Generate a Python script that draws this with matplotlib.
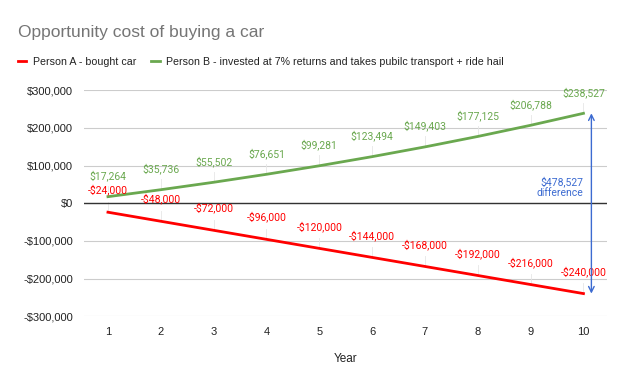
import numpy as np
import matplotlib
matplotlib.use("Agg")
import matplotlib.pyplot as plt
from matplotlib.ticker import FuncFormatter

plt.rcParams['font.family'] = ['Liberation Sans', 'DejaVu Sans']

#########################
# data
#########################
years = [1, 2, 3, 4, 5, 6, 7, 8, 9, 10]
person_a = [-24000, -48000, -72000, -96000, -120000, -144000, -168000, -192000, -216000, -240000]
person_b = [17264, 35736, 55502, 76651, 99281, 123494, 149403, 177125, 206788, 238527]
label_a = "Person A - bought car"
label_b = "Person B - invested at 7% returns and takes pubilc transport + ride hail"
diff_text = "$478,527\ndifference"

RED = "#ff0000"
GREEN = "#6aa84f"
BLUE = "#3c6bd1"
LABEL_FONT = ['Roboto', 'DejaVu Sans']


def money(v, pos=None):
    if v < 0:
        return "-${:,.0f}".format(-v)
    return "${:,.0f}".format(v)


fig = plt.figure(figsize=(6.19, 3.87), dpi=100)
ax = fig.add_axes([0.136, 0.183, 0.845, 0.584])

ax.plot(years, person_a, color=RED, lw=2, label=label_a, zorder=3)
ax.plot(years, person_b, color=GREEN, lw=2, label=label_b, zorder=3)

# data labels
for x, a, b in zip(years, person_a, person_b):
    ax.annotate(money(b), (x, b), xytext=(0, 11), textcoords="offset points",
                ha="center", va="bottom", fontsize=7.5, color=GREEN, family=LABEL_FONT)
    ax.annotate(money(a), (x, a), xytext=(0, 12), textcoords="offset points",
                ha="center", va="bottom", fontsize=7.5, color=RED, family=LABEL_FONT)
    ax.plot([x, x], [b, b + 28000], color="#e6e6e6", lw=0.6, zorder=1)
    ax.plot([x, x], [a, a + 28000], color="#e6e6e6", lw=0.6, zorder=1)

# difference arrow
ax.annotate("", xy=(10.15, person_b[-1]), xytext=(10.15, person_a[-1]),
            arrowprops=dict(arrowstyle="<->", color=BLUE, lw=1, shrinkA=0, shrinkB=0),
            zorder=4)
ax.text(10.0, 42000, diff_text, color=BLUE, fontsize=7.5, ha="right", va="center",
        linespacing=1.1, family=LABEL_FONT)

ax.set_xlim(0.55, 10.45)
ax.set_ylim(-300000, 300000)
ax.set_yticks(np.arange(-300000, 300001, 100000))
ax.yaxis.set_major_formatter(FuncFormatter(money))
ax.set_xticks(years)
ax.grid(axis="y", color="#cccccc", lw=0.8)
ax.axhline(0, color="#333333", lw=1, zorder=2)
ax.set_axisbelow(True)
for s in ax.spines.values():
    s.set_visible(False)
ax.tick_params(length=0, labelsize=8, colors="#222222", pad=8)
ax.set_xlabel("Year", fontsize=8.5, color="#222222", labelpad=11)

fig.text(0.029, 0.915, "Opportunity cost of buying a car", fontsize=12.5,
         color="#757575", va="center")
fig.legend(loc="center left", bbox_to_anchor=(0.022, 0.84), ncol=2, frameon=False,
           fontsize=7.7, handlelength=0.8, handletextpad=0.6, columnspacing=1.4,
           borderaxespad=0)
for t in fig.legends[0].get_texts():
    t.set_color("#222222")

fig.savefig("out.png", dpi=100)
